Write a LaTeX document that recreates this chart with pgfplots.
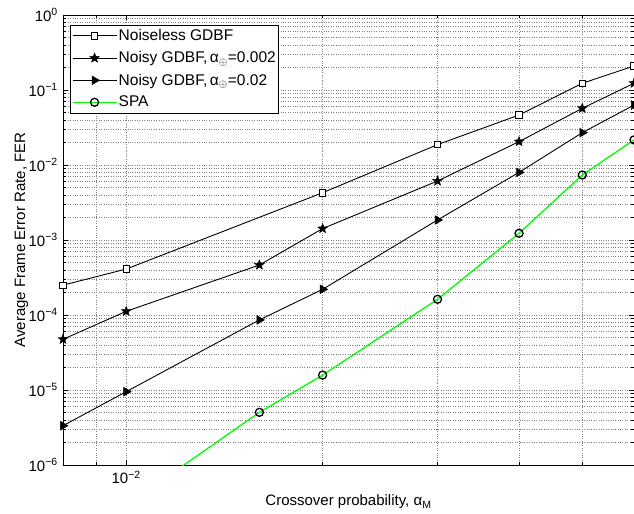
\documentclass[border=0pt]{standalone}
\usepackage{pgfplots}
\pgfplotsset{compat=1.18}
\usepackage{fontspec}
\setmainfont{Liberation Sans}
\definecolor{spagreen}{rgb}{0,1,0}
\pgfdeclareplotmark{fstar}{%
  \pgfpathmoveto{\pgfpointpolar{90}{\pgfplotmarksize}}%
  \pgfpathlineto{\pgfpointpolar{126}{0.42\pgfplotmarksize}}%
  \pgfpathlineto{\pgfpointpolar{162}{\pgfplotmarksize}}%
  \pgfpathlineto{\pgfpointpolar{198}{0.42\pgfplotmarksize}}%
  \pgfpathlineto{\pgfpointpolar{234}{\pgfplotmarksize}}%
  \pgfpathlineto{\pgfpointpolar{270}{0.42\pgfplotmarksize}}%
  \pgfpathlineto{\pgfpointpolar{306}{\pgfplotmarksize}}%
  \pgfpathlineto{\pgfpointpolar{342}{0.42\pgfplotmarksize}}%
  \pgfpathlineto{\pgfpointpolar{18}{\pgfplotmarksize}}%
  \pgfpathlineto{\pgfpointpolar{54}{0.42\pgfplotmarksize}}%
  \pgfpathclose
  \pgfusepathqfillstroke}
\begin{document}
\begin{tikzpicture}
\begin{axis}[
  scale only axis, width=571bp, height=450bp,
  xmode=log, ymode=log,
  xmin=0.008, xmax=0.06, ymin=1e-6, ymax=1,
  xtick={0.01}, xticklabels={10\textsuperscript{−2}},
  minor xtick={0.008,0.009,0.02,0.03,0.04,0.05,0.06},
  ytick={1e-6,1e-5,1e-4,1e-3,1e-2,1e-1,1},
  yticklabels={10\textsuperscript{−6},10\textsuperscript{−5},10\textsuperscript{−4},10\textsuperscript{−3},10\textsuperscript{−2},10\textsuperscript{−1},10\textsuperscript{0}},
  minor ytick={2e-6,3e-6,4e-6,5e-6,6e-6,7e-6,8e-6,9e-6,
    2e-5,3e-5,4e-5,5e-5,6e-5,7e-5,8e-5,9e-5,
    2e-4,3e-4,4e-4,5e-4,6e-4,7e-4,8e-4,9e-4,
    2e-3,3e-3,4e-3,5e-3,6e-3,7e-3,8e-3,9e-3,
    2e-2,3e-2,4e-2,5e-2,6e-2,7e-2,8e-2,9e-2,
    0.2,0.3,0.4,0.5,0.6,0.7,0.8,0.9},
  grid=both,
  major grid style={dotted, black!50, line width=0.5bp},
  minor grid style={dotted, black!50, line width=0.5bp},
  tick align=inside,
  major tick length=5bp, minor tick length=3bp,
  tick style={black, line width=0.5bp},
  axis line style={line width=0.8bp},
  font=\fontsize{15bp}{18bp}\selectfont,
  yticklabel style={inner sep=0pt, xshift=-5bp},
  xticklabel style={inner sep=0pt, yshift=-6bp},
  xlabel={Crossover probability, α\textsubscript{M}},
  ylabel={Average Frame Error Rate, FER},
  xlabel style={at={(axis description cs:0.5,-0.0911)}, anchor=base},
  ylabel style={at={(axis description cs:-0.0665,0.5)}, anchor=base, rotate=0},
  legend style={at={(axis description cs:0.0123,0.9787)}, anchor=north west, draw=black, line width=0.8bp, fill=white,
    font=\fontsize{15.5bp}{18bp}\selectfont, inner xsep=1.5bp, inner ysep=3bp, row sep=6.5bp,
    nodes={inner sep=1.5bp}},
  legend cell align=left,
  every axis plot/.append style={legend image code/.code={\draw[mark repeat=2,mark phase=2] plot coordinates {(0bp,0bp)(22bp,0bp)(44bp,0bp)};}},
]
\addplot[black, line width=0.9bp, mark=square*, mark size=3.2bp, mark options={fill=white, solid, line width=0.8bp}]
  coordinates {(0.008,2.5e-4)(0.01,4.1e-4)(0.02,4.27e-3)(0.03,0.0187)(0.04,0.0464)(0.05,0.123)(0.06,0.209)};
\addlegendentry{Noiseless GDBF}
\addplot[black, line width=0.9bp, mark=fstar, mark size=5bp, mark options={fill=black, solid, line width=0.5bp}]
  coordinates {(0.008,4.74e-5)(0.01,1.12e-4)(0.016,4.64e-4)(0.02,1.42e-3)(0.03,6.12e-3)(0.04,0.0205)(0.05,0.057)(0.06,0.123)};
\addlegendentry{Noisy GDBF,\,α\textsubscript{$\oplus$}=0.002}
\addplot[black, line width=0.9bp, mark=triangle*, mark size=5bp, mark options={fill=black, solid, rotate=-90, line width=0.5bp}]
  coordinates {(0.008,3.34e-6)(0.01,9.5e-6)(0.016,8.6e-5)(0.02,2.2e-4)(0.03,1.85e-3)(0.04,7.98e-3)(0.05,0.027)(0.06,0.063)};
\addlegendentry{Noisy GDBF,\,α\textsubscript{$\oplus$}=0.02}
\addplot[spagreen, line width=1.3bp, forget plot]
  coordinates {(0.01,2.9e-7)(0.016,5.04e-6)};
\addplot[spagreen, line width=1.3bp, mark=o, mark size=4bp, mark options={fill=white, draw=black, solid, line width=1.3bp}]
  coordinates {(0.016,5.04e-6)(0.02,1.58e-5)(0.03,1.62e-4)(0.04,1.23e-3)(0.05,7.36e-3)(0.06,0.0216)};
\addlegendentry{SPA}
\end{axis}
\pgfresetboundingbox
\path[use as bounding box] (-63bp,-49bp) rectangle (571bp,465bp);
\end{tikzpicture}
\end{document}
